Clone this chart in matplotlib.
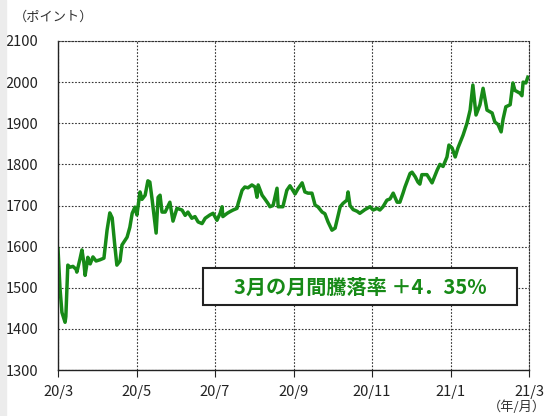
import matplotlib
matplotlib.use("Agg")
import matplotlib.pyplot as plt
from matplotlib.patches import Rectangle

plt.rcParams['font.family'] = ['Noto Sans CJK JP', 'DejaVu Sans']

# month offset from 2020/3, index value
months = [0.00, 0.05, 0.10, 0.18, 0.20, 0.25, 0.31, 0.38, 0.46, 0.48,
          0.56, 0.61, 0.66, 0.69, 0.74, 0.76, 0.82, 0.89, 0.97, 1.07,
          1.17, 1.25, 1.32, 1.38, 1.45, 1.50, 1.58, 1.63, 1.76, 1.83,
          1.89, 1.96, 2.01, 2.09, 2.14, 2.22, 2.29, 2.34, 2.40, 2.50,
          2.55, 2.60, 2.65, 2.73, 2.85, 2.93, 3.03, 3.16, 3.24, 3.31,
          3.41, 3.49, 3.57, 3.67, 3.75, 3.87, 3.95, 4.05, 4.13, 4.18,
          4.20, 4.31, 4.38, 4.46, 4.56, 4.59, 4.69, 4.76, 4.84, 4.94,
          5.02, 5.07, 5.10, 5.20, 5.27, 5.35, 5.40, 5.48, 5.58, 5.61,
          5.73, 5.83, 5.91, 6.04, 6.11, 6.22, 6.29, 6.37, 6.47, 6.55,
          6.62, 6.73, 6.80, 6.88, 6.98, 7.06, 7.19, 7.26, 7.36, 7.39,
          7.44, 7.52, 7.62, 7.69, 7.82, 7.95, 8.03, 8.13, 8.20, 8.28,
          8.38, 8.46, 8.54, 8.64, 8.71, 8.79, 8.84, 8.97, 9.02, 9.10,
          9.17, 9.22, 9.27, 9.40, 9.53, 9.66, 9.73, 9.81, 9.91, 9.96,
          10.04, 10.12, 10.19, 10.32, 10.42, 10.50, 10.57, 10.65, 10.75, 10.83,
          10.93, 11.06, 11.13, 11.21, 11.29, 11.34, 11.41, 11.52, 11.59, 11.64,
          11.77, 11.82, 11.85, 11.92, 11.97]
values = [1595, 1500, 1440, 1416, 1430, 1555, 1550, 1552, 1545, 1538,
          1570, 1592, 1560, 1530, 1560, 1574, 1558, 1575, 1565, 1568,
          1572, 1640, 1682, 1670, 1600, 1555, 1565, 1604, 1623, 1647,
          1681, 1696, 1677, 1733, 1715, 1725, 1760, 1757, 1713, 1633,
          1720, 1725, 1684, 1684, 1708, 1662, 1693, 1689, 1676, 1684,
          1669, 1673, 1660, 1656, 1669, 1677, 1681, 1664, 1681, 1697,
          1673, 1681, 1685, 1689, 1693, 1705, 1737, 1745, 1743, 1750,
          1745, 1720, 1750, 1725, 1716, 1705, 1697, 1700, 1742, 1697,
          1697, 1737, 1748, 1728, 1740, 1755, 1733, 1730, 1730, 1701,
          1697, 1684, 1680, 1660, 1640, 1645, 1697, 1705, 1713, 1733,
          1700, 1690, 1686, 1681, 1690, 1697, 1689, 1693, 1689, 1697,
          1713, 1716, 1730, 1708, 1708, 1730, 1745, 1778, 1781, 1770,
          1757, 1752, 1775, 1775, 1755, 1786, 1800, 1795, 1818, 1847,
          1840, 1818, 1840, 1871, 1900, 1932, 1993, 1920, 1945, 1985,
          1932, 1925, 1903, 1897, 1879, 1910, 1940, 1945, 1998, 1980,
          1973, 1967, 2000, 1998, 2012]

tick_pos = [0, 2, 4, 6, 8, 10, 12]
tick_labels = ["20/3", "20/5", "20/7", "20/9", "20/11", "21/1", "21/3"]
y_ticks = [1300, 1400, 1500, 1600, 1700, 1800, 1900, 2000, 2100]

fig = plt.figure(figsize=(5.46, 4.16), dpi=100)
fig.patches.append(Rectangle((0, 0), 6 / 546, 1, transform=fig.transFigure,
                             color="#ececec", zorder=0))
ax = fig.add_axes([58 / 546, 1 - 370 / 416, 471 / 546, 329 / 416])

ax.plot(months, values, color="#178a17", lw=2.5, solid_joinstyle="round")

ax.set_xlim(0, 12)
ax.set_ylim(1300, 2100)
ax.set_xticks(tick_pos)
ax.set_xticklabels(tick_labels)
ax.set_yticks(y_ticks)
ax.grid(True, color="#333333", ls=(0, (1.5, 1.5)), lw=0.8)
ax.set_axisbelow(True)
for s in ["top", "right"]:
    ax.spines[s].set_linestyle((0, (1.5, 1.5)))
    ax.spines[s].set_color("#333333")
    ax.spines[s].set_linewidth(0.8)
for s in ["left", "bottom"]:
    ax.spines[s].set_color("#222222")
    ax.spines[s].set_linewidth(1.0)
ax.tick_params(axis="y", length=0, pad=14, labelsize=10.5, colors="#222222")
ax.tick_params(axis="x", length=5, width=0.8, pad=6, labelsize=10.5, colors="#222222")

fig.text(14 / 546, 1 - 17 / 416, "（ポイント）", fontsize=9.5, va="center",
         ha="left", color="#333333")
fig.text(546 / 546, 1 - 407 / 416, "（年/月）", fontsize=9.5, va="center",
         ha="right", color="#333333")

# annotation box
box = Rectangle(((203 - 58) / 471, (370 - 305) / 329), 314 / 471, 37 / 329,
                transform=ax.transAxes, fc="white", ec="#222222", lw=1.5, zorder=5)
ax.add_patch(box)
ax.text((360 - 58) / 471, (370 - 287) / 329, "3月の月間騰落率 ＋4．35%",
        transform=ax.transAxes, ha="center", va="center", fontsize=14.5,
        fontweight="bold", color="#178a17", zorder=6)

fig.savefig("out.png", dpi=100)
